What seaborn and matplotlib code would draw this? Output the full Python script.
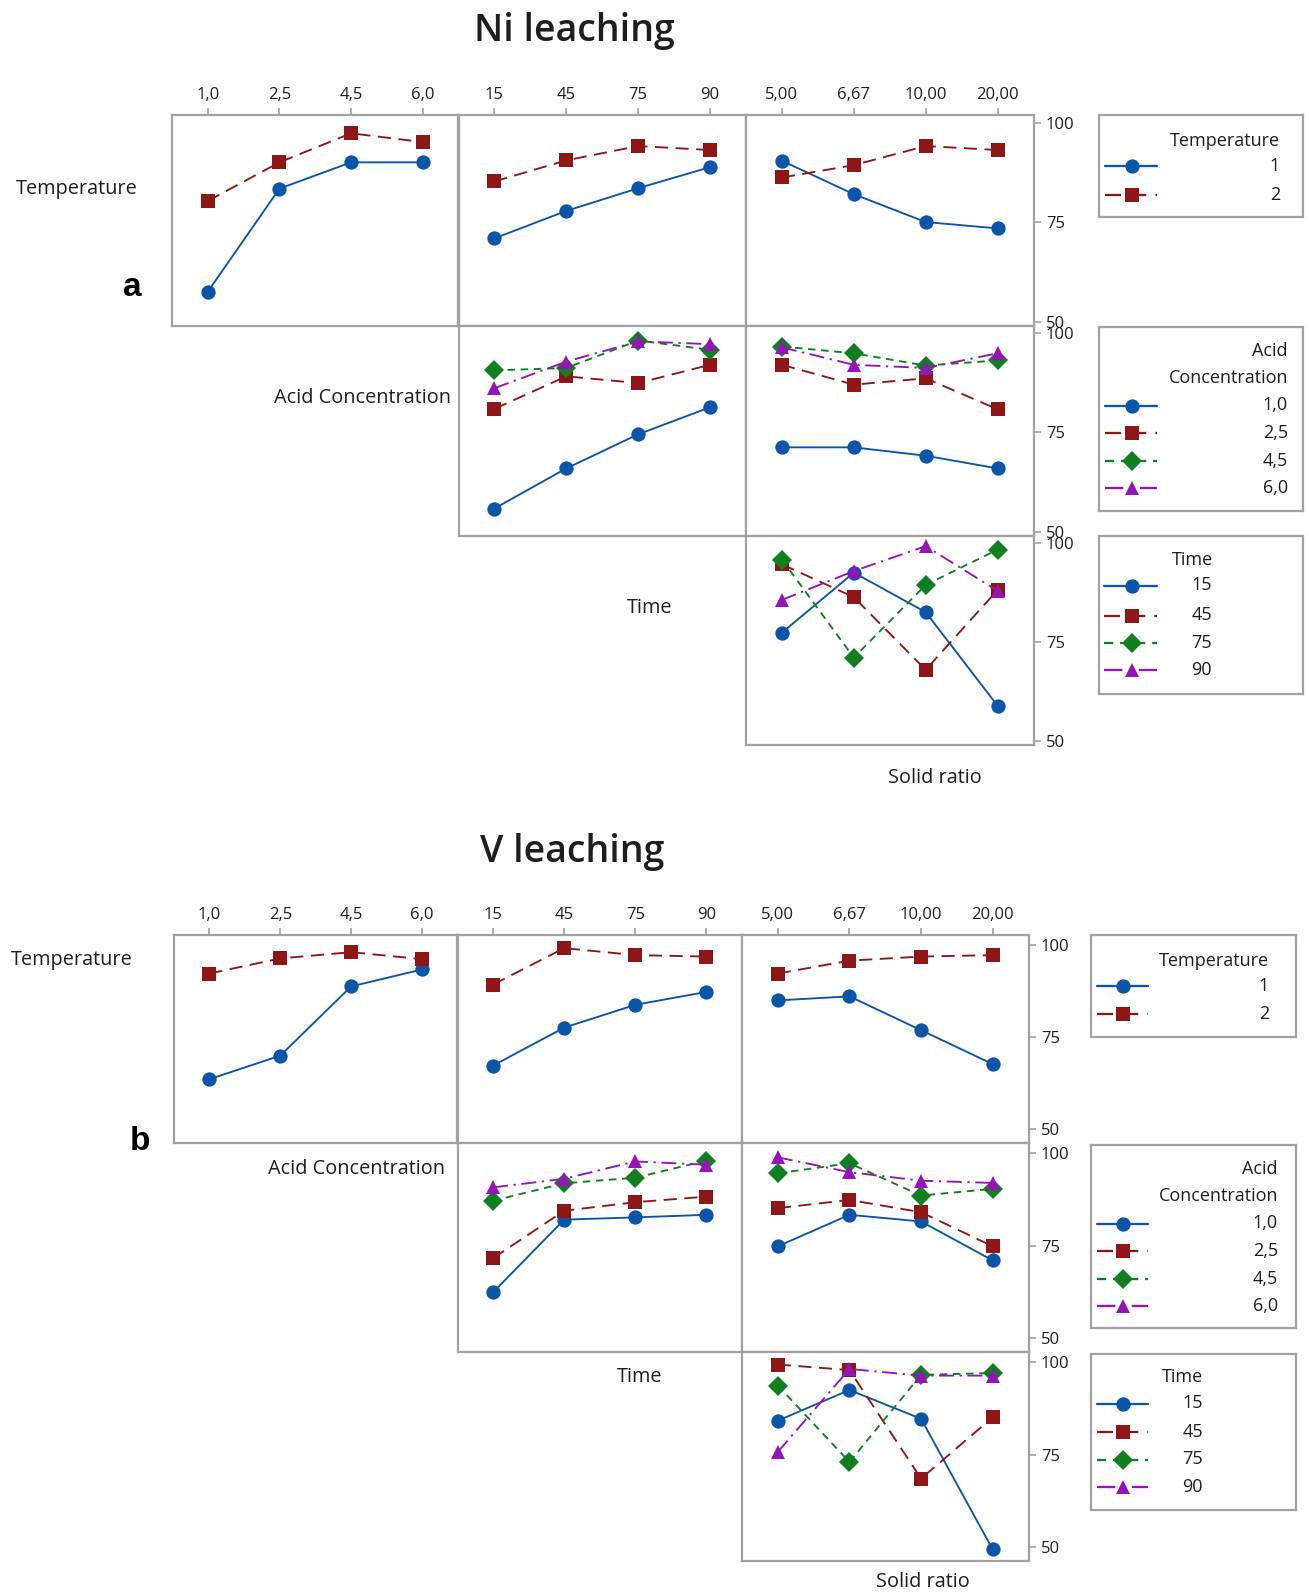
import numpy as np
import pandas as pd
import matplotlib
matplotlib.use("Agg")
import matplotlib.pyplot as plt
import seaborn as sns

W, H = 1309, 1594

# factor levels
temp_levels = ["1", "2"]
acid_levels = ["1,0", "2,5", "4,5", "6,0"]
time_levels = ["15", "45", "75", "90"]
solid_levels = ["5,00", "6,67", "10,00", "20,00"]

# Ni leaching: mean response, one row per trace level, one column per x level
ni_temp_by_acid = [[57.5, 83.4, 90.0, 90.0],
                   [80.3, 90.0, 97.3, 95.1]]
ni_temp_by_time = [[70.9, 77.8, 83.5, 88.8],
                   [85.2, 90.5, 94.1, 93.1]]
ni_temp_by_solid = [[90.4, 82.0, 75.0, 73.4],
                    [86.2, 89.3, 94.1, 93.1]]
ni_acid_by_time = [[55.8, 65.9, 74.5, 81.3],
                   [80.9, 89.1, 87.4, 92.0],
                   [90.6, 91.2, 98.1, 95.8],
                   [86.1, 92.8, 97.9, 97.2]]
ni_acid_by_solid = [[71.2, 71.2, 69.1, 65.9],
                    [92.0, 87.0, 88.6, 80.8],
                    [96.6, 94.9, 91.8, 93.1],
                    [96.4, 92.0, 91.2, 94.9]]
ni_time_by_solid = [[77.3, 92.5, 82.5, 58.8],
                    [94.6, 86.3, 67.9, 88.1],
                    [95.8, 71.0, 89.4, 98.3],
                    [85.6, 92.9, 99.2, 87.9]]

# V leaching
v_temp_by_acid = [[63.5, 69.9, 88.7, 93.3],
                  [92.2, 96.3, 98.0, 96.1]]
v_temp_by_time = [[67.2, 77.5, 83.7, 87.2],
                  [89.2, 99.1, 97.2, 96.8]]
v_temp_by_solid = [[84.9, 86.0, 76.8, 67.6],
                   [92.2, 95.7, 96.8, 97.2]]
v_acid_by_time = [[62.4, 82.0, 82.6, 83.3],
                  [71.6, 84.4, 86.7, 88.2],
                  [87.1, 91.8, 93.3, 97.9],
                  [90.7, 93.0, 97.7, 96.8]]
v_acid_by_solid = [[74.8, 83.3, 81.5, 71.0],
                   [85.1, 87.3, 84.0, 74.8],
                   [94.5, 97.2, 88.5, 90.3],
                   [98.8, 94.8, 92.5, 91.9]]
v_time_by_solid = [[84.2, 92.5, 84.7, 49.3],
                   [99.4, 97.9, 68.5, 85.1],
                   [93.7, 73.0, 96.6, 97.1],
                   [75.7, 98.2, 96.4, 96.4]]

y_ticks = [50, 75, 100]

colors = ["#0A55A8", "#8E1616", "#0F7F1F", "#9514B8"]
markers = ["o", "s", "D", "^"]
dash_styles = ["", (7, 4), (4, 3), (8, 3, 1.2, 3)]
frame_color = "#a2a2a2"
text_color = "#1e1e1e"
MS = 10.3
LW = 1.35

sns.set_theme(style="white")
plt.rcParams["font.family"] = ["Open Sans", "DejaVu Sans"]
plt.rcParams["text.color"] = text_color

fig = plt.figure(figsize=(W / 100, H / 100), dpi=100)


def rect(x0, y0, x1, y1):
    return [x0 / W, 1 - y1 / H, (x1 - x0) / W, (y1 - y0) / H]


def fig_text(x, y, s, **kw):
    fig.text(x / W, 1 - y / H, s, **kw)


def style_frame(ax):
    for sp in ax.spines.values():
        sp.set_color(frame_color)
        sp.set_linewidth(1.6)


def interaction_panel(ax, trace_levels, x_levels, values, ylim, top, right):
    records = []
    for lev, series in zip(trace_levels, values):
        for i, v in enumerate(series):
            records.append({"pos": i, "level": lev, "value": v})
    df = pd.DataFrame(records)
    n = len(trace_levels)
    sns.lineplot(data=df, x="pos", y="value", hue="level", style="level",
                 hue_order=trace_levels, style_order=trace_levels,
                 palette=colors[:n], markers=markers[:n],
                 dashes=dash_styles[:n], markersize=MS, markeredgewidth=0,
                 linewidth=LW, legend=False, errorbar=None, ax=ax)
    ax.set_xlim(-0.5, len(x_levels) - 0.5)
    ax.set_ylim(*ylim)
    ax.set_xlabel("")
    ax.set_ylabel("")
    ax.set_xticks(range(len(x_levels)))
    ax.set_xticklabels(x_levels)
    ax.set_yticks(y_ticks)
    ax.tick_params(axis="x", bottom=False, labelbottom=False, top=top,
                   labeltop=top, direction="out", length=5, width=1.2,
                   color=frame_color, pad=3.5, labelsize=12, labelcolor=text_color)
    ax.tick_params(axis="y", left=False, labelleft=False, right=right,
                   labelright=right, direction="out", length=5, width=1.2,
                   color=frame_color, pad=4, labelsize=12, labelcolor=text_color)
    style_frame(ax)


def legend_box(box, title_lines, title_x, title_ys, title_ha, levels, entry_ys,
               label_x, line_x, marker_x):
    x0, y0, x1, y1 = box
    ax = fig.add_axes(rect(x0, y0, x1, y1))
    ax.set_xlim(x0, x1)
    ax.set_ylim(y1, y0)
    ax.set_xticks([])
    ax.set_yticks([])
    style_frame(ax)
    for t, ty in zip(title_lines, title_ys):
        ax.text(title_x, ty, t, ha=title_ha, va="center", fontsize=13)
    for i, (lev, ey) in enumerate(zip(levels, entry_ys)):
        kw = {} if dash_styles[i] == "" else {"dashes": dash_styles[i]}
        ax.plot(line_x, [ey, ey], color=colors[i], lw=LW + 0.3, **kw)
        ax.plot([marker_x], [ey], marker=markers[i], color=colors[i],
                ms=MS, mew=0, linestyle="none")
        ax.text(label_x, ey, lev, ha="right", va="center", fontsize=13)


def build_matrix(cols, rows, ylim, cells, labels, title, tag, legends):
    # cells: (row, col, trace levels, x levels, values)
    for r, c, tl, xl, vals in cells:
        ax = fig.add_axes(rect(cols[c], rows[r], cols[c + 1], rows[r + 1]))
        interaction_panel(ax, tl, xl, vals, ylim, top=(r == 0), right=(c == 2))
    for (x, y, s) in labels:
        fig_text(x, y, s, ha="center", va="center", fontsize=14.3)
    fig_text(title[0], title[1], title[2], ha="center", va="center",
             fontsize=27, fontweight="semibold")
    fig_text(tag[0], tag[1], tag[2], ha="center", va="center", fontsize=24,
             fontweight="bold", family=["Liberation Sans", "DejaVu Sans"],
             color="black")
    for lg in legends:
        legend_box(**lg)


# ---- Ni leaching ----
a_cols = [172, 458.5, 746, 1033.5]
a_rows = [115, 325.5, 535.5, 744.5]
build_matrix(
    a_cols, a_rows, (49, 101.9),
    [(0, 0, temp_levels, acid_levels, ni_temp_by_acid),
     (0, 1, temp_levels, time_levels, ni_temp_by_time),
     (0, 2, temp_levels, solid_levels, ni_temp_by_solid),
     (1, 1, acid_levels, time_levels, ni_acid_by_time),
     (1, 2, acid_levels, solid_levels, ni_acid_by_solid),
     (2, 2, time_levels, solid_levels, ni_time_by_solid)],
    [(77, 189, "Temperature"), (363, 398, "Acid Concentration"),
     (650, 608, "Time"), (935, 778, "Solid ratio")],
    (574, 31, "Ni leaching"), (132, 287, "a"),
    [dict(box=(1098.5, 115, 1303, 216.5), title_lines=["Temperature"],
          title_x=1280, title_ys=[141], title_ha="right", levels=temp_levels,
          entry_ys=[166, 195], label_x=1280, line_x=[1105, 1157], marker_x=1132),
     dict(box=(1098.5, 326.5, 1303, 510.5), title_lines=["Acid", "Concentration"],
          title_x=1288, title_ys=[351, 378], title_ha="right", levels=acid_levels,
          entry_ys=[405.5, 432.5, 461, 488], label_x=1288, line_x=[1105, 1157],
          marker_x=1132),
     dict(box=(1098.5, 535.5, 1303, 694), title_lines=["Time"],
          title_x=1193, title_ys=[560], title_ha="center", levels=time_levels,
          entry_ys=[585.5, 615.5, 643, 670], label_x=1212, line_x=[1104, 1157],
          marker_x=1132)])

# ---- V leaching ----
b_cols = [174, 457.5, 742, 1028.5]
b_rows = [934.5, 1142.5, 1352, 1560.5]
build_matrix(
    b_cols, b_rows, (46.3, 102.8),
    [(0, 0, temp_levels, acid_levels, v_temp_by_acid),
     (0, 1, temp_levels, time_levels, v_temp_by_time),
     (0, 2, temp_levels, solid_levels, v_temp_by_solid),
     (1, 1, acid_levels, time_levels, v_acid_by_time),
     (1, 2, acid_levels, solid_levels, v_acid_by_solid),
     (2, 2, time_levels, solid_levels, v_time_by_solid)],
    [(72, 960, "Temperature"), (357, 1169, "Acid Concentration"),
     (640, 1377, "Time"), (923, 1582, "Solid ratio")],
    (572, 852, "V leaching"), (140, 1141, "b"),
    [dict(box=(1090.5, 935, 1296, 1036.5), title_lines=["Temperature"],
          title_x=1269, title_ys=[961], title_ha="right", levels=temp_levels,
          entry_ys=[986, 1014], label_x=1269, line_x=[1097, 1148], marker_x=1123),
     dict(box=(1090.5, 1144.5, 1296, 1327.5), title_lines=["Acid", "Concentration"],
          title_x=1278, title_ys=[1169, 1196], title_ha="right", levels=acid_levels,
          entry_ys=[1223.5, 1251, 1278.5, 1306], label_x=1278, line_x=[1097, 1148],
          marker_x=1123),
     dict(box=(1090.5, 1353.5, 1296, 1510), title_lines=["Time"],
          title_x=1183, title_ys=[1377], title_ha="center", levels=time_levels,
          entry_ys=[1403.5, 1432, 1459.5, 1487], label_x=1203, line_x=[1097, 1148],
          marker_x=1123)])

fig.savefig("out.png", dpi=100, facecolor="white")
